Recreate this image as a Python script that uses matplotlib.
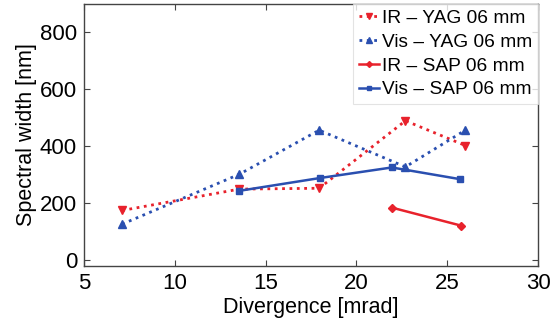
import matplotlib
matplotlib.use("Agg")
import matplotlib.pyplot as plt

plt.rcParams['font.family'] = ['Liberation Sans', 'DejaVu Sans']

ir_yag_x = [7.1, 13.55, 17.95, 22.7, 26.0]
ir_yag_y = [175, 250, 253, 490, 403]
vis_yag_x = [7.1, 13.55, 17.95, 22.7, 26.0]
vis_yag_y = [127, 302, 457, 328, 457]
ir_sap_x = [21.95, 25.75]
ir_sap_y = [185, 122]
vis_sap_x = [13.55, 18.0, 21.95, 25.7]
vis_sap_y = [244, 289, 326, 285]

red = '#e8222c'
blue = '#2a4fb0'

fig = plt.figure(figsize=(5.53, 3.21), dpi=100)
ax = fig.add_axes([84/553, (321-266)/321, (538-84)/553, (266-4)/321])

ax.plot(ir_yag_x, ir_yag_y, ls=':', color=red, lw=2, marker='v', ms=6, label='IR – YAG 06 mm')
ax.plot(vis_yag_x, vis_yag_y, ls=':', color=blue, lw=2, marker='^', ms=6, label='Vis – YAG 06 mm')
ax.plot(ir_sap_x, ir_sap_y, ls='-', color=red, lw=1.8, marker='D', ms=4, label='IR – SAP 06 mm')
ax.plot(vis_sap_x, vis_sap_y, ls='-', color=blue, lw=1.8, marker='s', ms=4, label='Vis – SAP 06 mm')

ax.set_xlim(5, 30)
ax.set_ylim(-20, 900)
ax.set_xticks([5, 10, 15, 20, 25, 30])
ax.set_yticks([0, 200, 400, 600, 800])
ax.tick_params(direction='in', top=True, right=True, labelsize=16, length=4, color='#444444', pad=5)
for s in ax.spines.values():
    s.set_color('#444444')
    s.set_linewidth(1)
ax.set_xlabel('Divergence [mrad]', fontsize=15.5, labelpad=2)
ax.set_ylabel('Spectral width [nm]', fontsize=15.5, labelpad=2)

leg = ax.legend(loc='upper right', fontsize=13.8, frameon=True, fancybox=False,
                handlelength=1.05, handletextpad=0.15, borderpad=0.3, labelspacing=0.33,
                borderaxespad=0.0, markerscale=0.75)
leg.get_frame().set_edgecolor('#dddddd')
leg.get_frame().set_linewidth(0.8)

fig.savefig('out.png', dpi=100)
